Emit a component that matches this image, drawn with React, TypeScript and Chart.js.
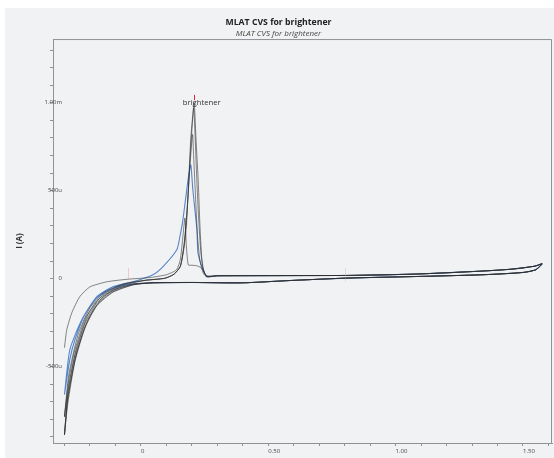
import { useEffect, useRef } from "react";
import { Chart, registerables } from "chart.js";

Chart.register(...registerables);

type P = [number, number]; // [potential V, current mA]

const titleText = "MLAT CVS for brightener";
const subtitleText = "MLAT CVS for brightener";
const yAxisTitle = "I (A)";
const peakLabel = "brightener";

const xLabelValues = [0, 0.5, 1.0, 1.5];
const xLabelTexts = ["0", "0.50", "1.00", "1.50"];
const yLabelValues = [-0.5, 0, 0.5, 1.0];
const yLabelTexts = ["-500u", "0", "500u", "1.00m"];

// shared flat part of every cycle (forward after stripping, and reverse)
const flatForward: P[] = [
  [0.3, 0.016], [0.5, 0.017], [0.81, 0.018], [1.083, 0.026], [1.343, 0.043],
  [1.45, 0.053], [1.5, 0.061], [1.55, 0.072], [1.575, 0.084],
];
const flatReverse: P[] = [
  [1.55, 0.05], [1.5, 0.035], [1.343, 0.022], [1.083, 0.012], [0.81, 0.003],
  [0.585, -0.011], [0.4, -0.024], [0.2, -0.022], [0.047, -0.024],
];

// cycle 1 (small stripping peak)
const c1Forward: P[] = [
  [-0.3, -0.393], [-0.291, -0.291], [-0.271, -0.194], [-0.24, -0.103], [-0.2, -0.047],
  [-0.133, -0.018], [-0.055, -0.004], [0.035, 0.006], [0.1, 0.022], [0.14, 0.05],
  [0.155, 0.11], [0.165, 0.24], [0.173, 0.345], [0.178, 0.2], [0.186, 0.078],
  [0.2, 0.076], [0.219, 0.073], [0.238, 0.06], [0.258, 0.016],
];
const c1Reverse: P[] = [
  [-0.031, -0.032], [-0.11, -0.069], [-0.173, -0.138], [-0.22, -0.257],
  [-0.259, -0.439], [-0.283, -0.603], [-0.3, -0.785],
];

// cycle 2 (tallest peak)
const c2Forward: P[] = [
  [-0.3, -0.785], [-0.283, -0.547], [-0.247, -0.32], [-0.2, -0.166], [-0.141, -0.075],
  [-0.063, -0.028], [0.016, -0.01], [0.094, 0.002], [0.13, 0.025], [0.155, 0.07],
  [0.17, 0.18], [0.18, 0.33], [0.186, 0.5], [0.196, 0.8], [0.209, 1.0],
  [0.212, 0.94], [0.216, 0.806], [0.225, 0.561], [0.232, 0.3], [0.242, 0.069],
  [0.258, 0.012],
];
const c2Reverse: P[] = [
  [-0.031, -0.035], [-0.11, -0.075], [-0.173, -0.149], [-0.22, -0.274],
  [-0.259, -0.461], [-0.287, -0.689], [-0.3, -0.888],
];

// cycle 3
const c3Forward: P[] = [
  [-0.3, -0.888], [-0.287, -0.66], [-0.255, -0.405], [-0.208, -0.206], [-0.149, -0.092],
  [-0.071, -0.034], [0.016, -0.01], [0.094, 0.002], [0.13, 0.025], [0.155, 0.07],
  [0.17, 0.2], [0.182, 0.4], [0.193, 0.65], [0.203, 0.82], [0.207, 0.7],
  [0.215, 0.45], [0.222, 0.25], [0.232, 0.1], [0.245, 0.03], [0.258, 0.012],
];
const c3Reverse: P[] = [
  [-0.031, -0.036], [-0.11, -0.078], [-0.173, -0.155], [-0.22, -0.283],
  [-0.259, -0.473], [-0.287, -0.711], [-0.3, -0.888],
];

// cycle 4
const c4Forward: P[] = [
  [-0.3, -0.888], [-0.287, -0.677], [-0.251, -0.416], [-0.204, -0.223], [-0.145, -0.1],
  [-0.067, -0.038], [0.016, -0.01], [0.094, 0.002], [0.13, 0.025], [0.155, 0.07],
  [0.172, 0.22], [0.184, 0.45], [0.196, 0.75], [0.207, 0.97], [0.211, 0.88],
  [0.218, 0.62], [0.226, 0.36], [0.236, 0.14], [0.248, 0.04], [0.26, 0.014],
];
const c4Reverse: P[] = [
  [-0.031, -0.033], [-0.11, -0.064], [-0.173, -0.126], [-0.22, -0.234],
  [-0.259, -0.405], [-0.283, -0.575], [-0.3, -0.785],
];

// blue cycle
const blueForward: P[] = [
  [-0.3, -0.66], [-0.279, -0.405], [-0.232, -0.234], [-0.173, -0.103], [-0.11, -0.047],
  [-0.031, -0.018], [0.047, 0.022], [0.086, 0.067], [0.141, 0.164], [0.153, 0.2375],
  [0.165, 0.334], [0.185, 0.561], [0.196, 0.647], [0.204, 0.505], [0.22, 0.277],
  [0.224, 0.147], [0.24, 0.067], [0.259, 0.01],
];
const blueReverse: P[] = [
  [-0.031, -0.03], [-0.11, -0.056], [-0.173, -0.109], [-0.22, -0.206],
  [-0.259, -0.348], [-0.279, -0.461], [-0.3, -0.66],
];

// small vertical markers [V, I from, I to, color]
const markers: [number, number, number, string][] = [
  [0.209, 1.015, 1.045, "#e8242a"],
  [-0.052, -0.007, 0.061, "rgba(235,150,160,0.45)"],
  [0.801, -0.018, 0.061, "rgba(180,180,180,0.35)"],
];
const peakLabelPos: P = [0.239, 1.0];

const BLACK = "rgba(45,45,45,0.68)";
const BLUE = "#5786cc";
const AXIS = "#8e9398";
const FONT = "'Open Sans', sans-serif";
const TICK_FONT_SIZE = 6;

function cycle(fwd: P[], rev: P[]) {
  return [...fwd, ...flatForward, ...flatReverse, ...rev].map(([x, y]) => ({ x, y }));
}

function labelFor(v: number, vals: number[], texts: string[]) {
  for (let i = 0; i < vals.length; i++) {
    if (Math.abs(v - vals[i]) < 1e-6) return texts[i];
  }
  return "";
}

const bgPlugin = {
  id: "bgPanel",
  beforeDraw(chart: any) {
    const ctx = chart.ctx;
    ctx.save();
    ctx.fillStyle = "#ffffff";
    ctx.fillRect(0, 0, chart.width, chart.height);
    ctx.fillStyle = "#f0f2f4";
    ctx.fillRect(5, 8, chart.width - 5, chart.height - 8);
    ctx.restore();
  },
  afterDraw(chart: any) {
    const { ctx, chartArea: a, scales } = chart;
    ctx.save();
    ctx.strokeStyle = AXIS;
    ctx.lineWidth = 1;
    ctx.beginPath();
    ctx.moveTo(a.left, a.top + 0.5);
    ctx.lineTo(a.right - 0.5, a.top + 0.5);
    ctx.lineTo(a.right - 0.5, a.bottom);
    ctx.stroke();
    for (const [v, i0, i1, c] of markers) {
      const x = Math.round(scales.x.getPixelForValue(v)) + 0.5;
      ctx.strokeStyle = c;
      ctx.beginPath();
      ctx.moveTo(x, scales.y.getPixelForValue(i0));
      ctx.lineTo(x, scales.y.getPixelForValue(i1));
      ctx.stroke();
    }
    ctx.fillStyle = "#333";
    ctx.font = `7.7px ${FONT}`;
    ctx.textAlign = "center";
    ctx.textBaseline = "middle";
    ctx.fillText(
      peakLabel,
      scales.x.getPixelForValue(peakLabelPos[0]),
      scales.y.getPixelForValue(peakLabelPos[1])
    );
    ctx.restore();
  },
};

export default function App() {
  const ref = useRef<HTMLCanvasElement | null>(null);
  useEffect(() => {
    if (!ref.current) return;
    // widest y label, so right-aligned mirrored labels end 9px right of the axis
    const mctx = document.createElement("canvas").getContext("2d")!;
    mctx.font = `${TICK_FONT_SIZE}px ${FONT}`;
    const widest = Math.max(...yLabelTexts.map((t) => mctx.measureText(t).width));
    const mk = (d: P[], r: P[], color: string, w: number) => ({
      data: cycle(d, r),
      borderColor: color,
      borderWidth: w,
      pointRadius: 0,
      tension: 0.2,
      fill: false,
    });
    const chart = new Chart(ref.current, {
      type: "line",
      data: {
        datasets: [
          mk(c1Forward, c1Reverse, BLACK, 0.85),
          mk(c2Forward, c2Reverse, BLACK, 0.85),
          mk(c3Forward, c3Reverse, BLACK, 0.85),
          mk(c4Forward, c4Reverse, BLACK, 0.85),
          mk(blueForward, blueReverse, BLUE, 1.1),
        ],
      },
      options: {
        animation: false,
        responsive: false,
        layout: { padding: { left: 5, right: 2, top: 8, bottom: 0 } },
        plugins: {
          legend: { display: false },
          tooltip: { enabled: false },
          title: {
            display: true,
            text: titleText,
            color: "#222",
            font: { family: FONT, size: 8.7, weight: "bold" },
            padding: { top: 9, bottom: 1 },
          },
          subtitle: {
            display: true,
            text: subtitleText,
            color: "#444",
            font: { family: FONT, size: 8, style: "italic" },
            padding: { top: 0, bottom: 1 },
          },
        },
        scales: {
          x: {
            type: "linear",
            min: -0.345,
            max: 1.614,
            border: { display: true, color: AXIS, width: 1 },
            grid: { drawOnChartArea: false, drawTicks: true, tickLength: 3, color: AXIS },
            ticks: {
              stepSize: 0.1,
              includeBounds: false,
              align: "start",
              maxRotation: 0,
              autoSkip: false,
              padding: 2,
              color: "#444",
              font: { family: FONT, size: TICK_FONT_SIZE },
              callback: (v: any) => labelFor(Number(v), xLabelValues, xLabelTexts),
            },
            afterFit: (s: any) => {
              s.height = 15;
            },
          },
          y: {
            type: "linear",
            min: -0.935,
            max: 1.3625,
            border: { display: true, color: AXIS, width: 1 },
            grid: { drawOnChartArea: false, drawTicks: true, tickLength: 3, color: AXIS },
            title: {
              display: true,
              text: yAxisTitle,
              color: "#333",
              font: { family: FONT, size: 8, weight: "bold" },
              padding: { top: 10, bottom: 0 },
            },
            ticks: {
              stepSize: 0.1,
              includeBounds: false,
              autoSkip: false,
              mirror: true,
              crossAlign: "far",
              padding: 9 - widest,
              color: "#444",
              font: { family: FONT, size: TICK_FONT_SIZE },
              callback: (v: any) => labelFor(Number(v), yLabelValues, yLabelTexts),
            },
            afterFit: (s: any) => {
              s.width = 48;
            },
          },
        },
      } as any,
      plugins: [bgPlugin],
    });
    return () => chart.destroy();
  }, []);
  return (
    <div style={{ position: "fixed", left: 0, top: 0, width: 554, height: 458 }}>
      <canvas ref={ref} width={554} height={458} style={{ width: 554, height: 458, display: "block" }} />
    </div>
  );
}
